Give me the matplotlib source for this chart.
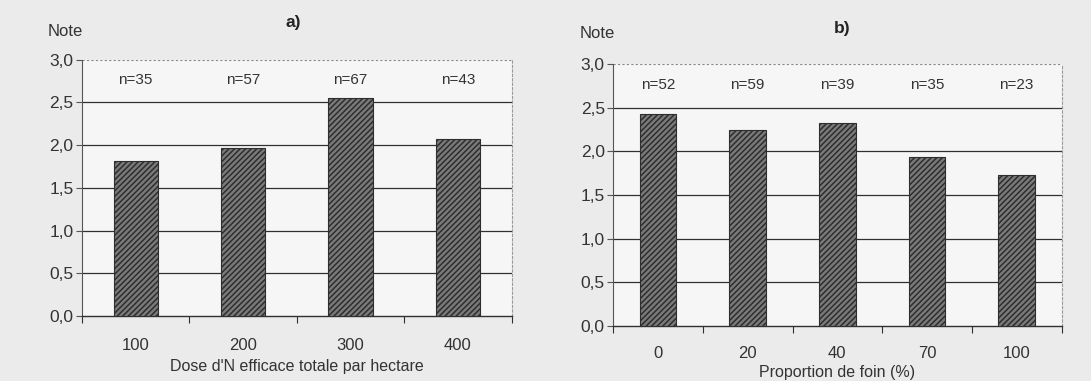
import matplotlib
matplotlib.use("Agg")
import matplotlib.pyplot as plt
import numpy as np

plt.rcParams['font.family'] = ['Liberation Sans', 'DejaVu Sans']
plt.rcParams['hatch.linewidth'] = 1.1

# Panel a
cats_a = ["100", "200", "300", "400"]
vals_a = [1.82, 1.97, 2.55, 2.07]
n_a = ["n=35", "n=57", "n=67", "n=43"]
xlabel_a = "Dose d'N efficace totale par hectare"

# Panel b
cats_b = ["0", "20", "40", "70", "100"]
vals_b = [2.43, 2.25, 2.33, 1.94, 1.73]
n_b = ["n=52", "n=59", "n=39", "n=35", "n=23"]
xlabel_b = "Proportion de foin (%)"

yticks = [0.0, 0.5, 1.0, 1.5, 2.0, 2.5, 3.0]

W, H = 1091, 381
fig = plt.figure(figsize=(W / 100, H / 100), dpi=100)
fig.patch.set_facecolor('#ebebeb')

def panel(rect, cats, vals, ns, xlabel, title, title_xy, note_xy, xlab_pad, xl_y):
    ax = fig.add_axes(rect)
    ax.set_facecolor('#f6f6f6')
    x = np.arange(len(cats))
    ax.bar(x, vals, width=0.41, color='#7a7a7a', edgecolor='#2e2e2e',
           hatch='//////', linewidth=0.8, zorder=3)
    ax.set_xlim(-0.5, len(cats) - 0.5)
    ax.set_ylim(0, 3.0)
    for y in yticks[1:-1]:
        ax.axhline(y, color='#303030', linewidth=0.9, zorder=1)
    ax.axhline(3.0, color='#888888', linewidth=0.8, linestyle=(0, (2, 2)), zorder=1)
    ax.spines['top'].set_visible(False)
    ax.spines['right'].set_color('#999999')
    ax.spines['right'].set_linestyle((0, (2, 2)))
    ax.spines['right'].set_linewidth(0.8)
    ax.spines['left'].set_color('#555555')
    ax.spines['bottom'].set_color('#303030')
    ax.spines['bottom'].set_linewidth(1.0)
    ax.set_yticks(yticks)
    ax.set_yticklabels([f"{v:.1f}".replace('.', ',') for v in yticks], fontsize=12.5, color='#333333')
    ax.tick_params(axis='y', length=4, color='#555555', pad=2)
    ax.set_xticks(np.arange(len(cats) + 1) - 0.5)
    ax.set_xticklabels([])
    ax.tick_params(axis='x', which='major', length=5, direction='out', color='#303030')
    ax.set_xticks(x, minor=True)
    ax.set_xticklabels(cats, minor=True, fontsize=12, color='#333333')
    ax.tick_params(axis='x', which='minor', length=0, pad=xlab_pad)
    cx = rect[0] + rect[2] / 2
    fig.text(cx, 1 - xl_y / H, xlabel, fontsize=11.5, color='#333333', ha='center', va='center')
    for xi, t in zip(x, ns):
        ax.text(xi, 2.76, t, ha='center', va='center', fontsize=11, color='#333333')
    fig.text(title_xy[0], title_xy[1], title, fontsize=12.5, fontweight='bold',
             ha='center', va='center', color='#222222')
    fig.text(note_xy[0], note_xy[1], "Note", fontsize=12, ha='center', va='center', color='#333333')
    return ax

panel([0.075, 0.171, 0.394, 0.672], cats_a, vals_a, n_a, xlabel_a, "a)",
      (293 / W, 1 - 22 / H), (65 / W, 1 - 32 / H), 16, 366)
panel([0.562, 0.144, 0.411, 0.688], cats_b, vals_b, n_b, xlabel_b, "b)",
      (842 / W, 1 - 28 / H), (597 / W, 1 - 33 / H), 14, 372)

fig.savefig("out.png", dpi=100, facecolor=fig.get_facecolor())
